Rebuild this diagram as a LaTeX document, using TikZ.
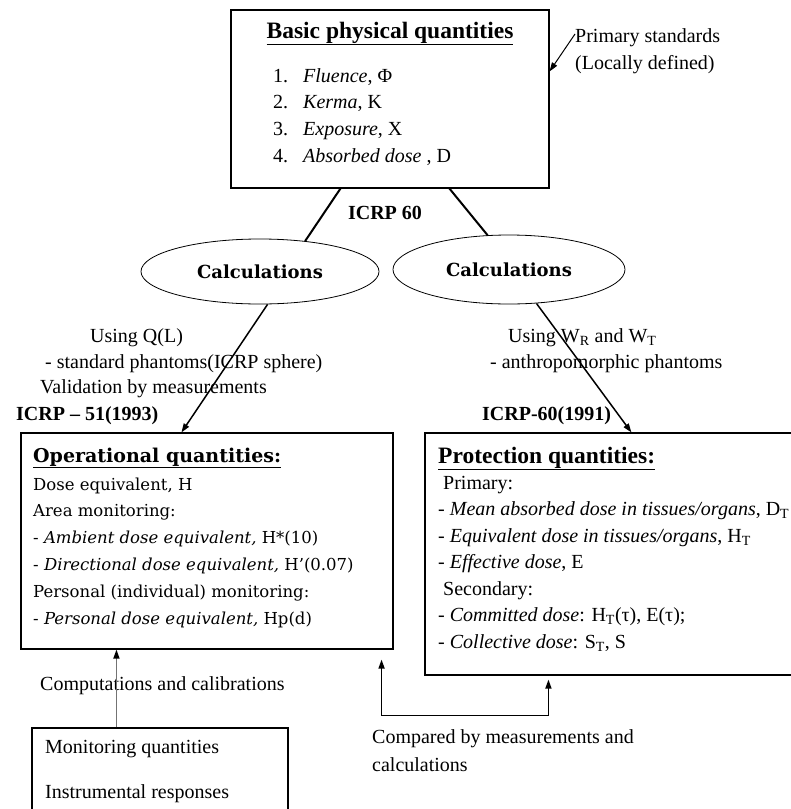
\documentclass[tikz,border=0pt]{standalone}
\usepackage{fontspec}
\setmainfont{Liberation Serif}
\newfontfamily\camfont[Ligatures=TeX]{DejaVu Serif}
\usetikzlibrary{shapes.geometric,arrows.meta,calc}
\newcommand\tmsz{\fontsize{20}{24}\selectfont}
\newcommand\camsz{\camfont\fontsize{16.5}{20}\selectfont}
\newcommand\ttlsz{\fontsize{23.5}{27}\selectfont\bfseries}
\tikzset{
  box/.style={draw, line width=1.1pt, inner sep=0pt},
  ell/.style={draw, ellipse, line width=0.8pt, inner sep=0pt, font=\camfont\bfseries\fontsize{18}{21}\selectfont},
  tx/.style={inner sep=0pt, anchor=base west, font=\tmsz},
  ctx/.style={inner sep=0pt, anchor=base west, font=\camsz},
  thk/.style={line width=2pt},
  arr/.style={line width=1.5pt, -{Triangle[length=9pt,width=6pt]}},
  grarr/.style={line width=1.5pt, draw=black!55, -{Triangle[length=9pt,width=6pt,fill=black,color=black]}},
  dblarr/.style={line width=1.5pt, {Triangle[length=9pt,width=6pt]}-{Triangle[length=9pt,width=6pt]}}
}
\begin{document}
\begin{tikzpicture}[x=1pt,y=-1pt]
\useasboundingbox (0,0) rectangle (791,809);
% boxes
\node[box, minimum width=318pt, minimum height=178pt] (basic) at (390,99) {};
\node[box, minimum width=372pt, minimum height=216pt] (op) at (207,541) {};
\node[box, minimum width=375pt, minimum height=242pt] (prot) at (612.5,554) {};
\node[box, minimum width=256pt, minimum height=100pt] (mon) at (160,778) {};
% ellipses
\node[ell, minimum width=238pt, minimum height=65pt] (calcL) at (260,271.5) {Calculations};
\node[ell, minimum width=232pt, minimum height=69pt] (calcR) at (509,269.5) {Calculations};
% basic box text
\node[inner sep=0pt, anchor=base, font=\ttlsz] (tBasic) at (390,38) {\underline{Basic physical quantities}};
\node[tx] (n1) at (273,82) {1.};
\node[tx] (n2) at (273,108.5) {2.};
\node[tx] (n3) at (273,135) {3.};
\node[tx] (n4) at (273,162) {4.};
\node[tx] (i1) at (303,82) {\textit{Fluence}, Φ};
\node[tx] (i2) at (303,108.5) {\textit{Kerma}, K};
\node[tx] (i3) at (303,135) {\textit{Exposure}, X};
\node[tx] (i4) at (303,162) {\textit{Absorbed dose} , D};
% primary standards
\node[tx] (std1) at (575,42) {Primary standards};
\node[tx] (std2) at (575,69) {(Locally defined)};
\coordinate (stdA) at (575,34);
% ICRP 60
\node[inner sep=0pt, anchor=base, font=\tmsz\bfseries] (icrp60) at (385,219) {ICRP 60};
% left labels
\node[tx] (uq) at (90,342) {Using Q(L)};
\node[tx] (sp) at (45,368) {- standard phantoms(ICRP sphere)};
\node[tx] (vm) at (40,393) {Validation by measurements};
\node[tx, font=\tmsz\bfseries] (icrp51) at (16,420) {ICRP – 51(1993)};
% right labels
\node[tx] (uw) at (508,342) {Using W\textsubscript{R} and W\textsubscript{T}};
\node[tx] (ap) at (490,368) {- anthropomorphic phantoms};
\node[tx, font=\tmsz\bfseries] (icrp60b) at (482,420) {ICRP-60(1991)};
% operational text
\node[ctx, font=\camfont\bfseries\fontsize{19}{22}\selectfont] (opT) at (33,462) {\underline{Operational quantities:}};
\node[ctx] (o1) at (33,490) {Dose equivalent, H};
\node[ctx] (o2) at (33,516) {Area monitoring:};
\node[ctx] (o3) at (33,543) {- \textit{Ambient dose equivalent,} H*(10)};
\node[ctx] (o4) at (33,570) {- \textit{Directional dose equivalent,} H’(0.07)};
\node[ctx] (o5) at (33,597) {Personal (individual) monitoring:};
\node[ctx] (o6) at (33,624) {- \textit{Personal dose equivalent,} Hp(d)};
% protection text
\node[tx, font=\ttlsz] (prT) at (438,463) {\underline{Protection quantities:}};
\node[tx] (p1) at (443,489) {Primary:};
\node[tx] (p2) at (438,515.5) {- \textit{Mean absorbed dose in tissues/organs}, D\textsubscript{T}};
\node[tx] (p3) at (438,542) {- \textit{Equivalent dose in tissues/organs}, H\textsubscript{T}};
\node[tx] (p4) at (438,568.5) {- \textit{Effective dose}, E};
\node[tx] (p5) at (443,595) {Secondary:};
\node[tx] (p6) at (438,621.5) {- \textit{Committed dose}: H\textsubscript{T}(τ), E(τ);};
\node[tx] (p7) at (438,648) {- \textit{Collective dose}: S\textsubscript{T}, S};
% bottom texts
\node[tx] (cc) at (40,690) {Computations and calibrations};
\node[tx] (m1) at (45,753) {Monitoring quantities};
\node[tx] (m2) at (45,798) {Instrumental responses};
\node[tx] (cm1) at (372,743) {Compared by measurements and};
\node[tx] (cm2) at (372,771) {calculations};
% connectors
\draw[thk] ($(basic.south west)+(110,0)$) -- (calcL.34);
\draw[thk] ($(basic.south west)+(219,0)$) -- (calcR.122);
\draw[arr] (calcL.283) -- ($(op.north west)+(161,0)$);
\draw[arr] (calcR.-51) -- ($(prot.north west)+(207,0)$);
\draw[arr, line width=1pt] (stdA) -- ($(basic.north east)+(0,62)$);
\draw[grarr] ($(mon.north west)+(85,0)$) -- ($(op.south west)+(96,0)$);
\draw[dblarr] ($(op.south east)+(-12,10)$) -- ++(0,56) -| ($(prot.south west)+(124,4)$);
\end{tikzpicture}
\end{document}
